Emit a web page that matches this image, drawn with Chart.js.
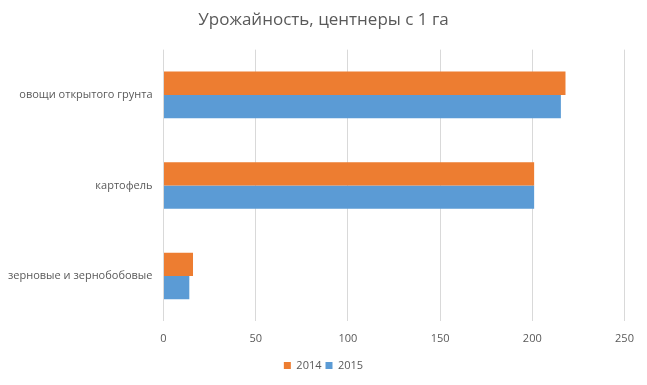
<!DOCTYPE html>
<html>
<head>
<meta charset="utf-8">
<script src="https://cdn.jsdelivr.net/npm/chart.js@4"></script>
<style>
  html, body { margin:0; padding:0; background:#fff; }
  #wrap { width:647px; height:385px; }
</style>
</head>
<body>
<div id="wrap"><canvas id="chart" width="647" height="385"></canvas></div>
<script>
// =====================
// DATA
// =====================
const categories = ["овощи открытого грунта", "картофель", "зерновые и зернобобовые"]
const values2014 = [218, 201, 16]
const values2015 = [215.5, 201, 14]
const seriesNames = ["2014", "2015"]
const xTicks = [0, 50, 100, 150, 200, 250]

const FONT = "'Open Sans', 'Noto Sans', sans-serif"
const TEXT = "#595959"

new Chart(document.getElementById("chart"), {
  type: "bar",
  data: {
    labels: categories,
    datasets: [
      { label: seriesNames[0], data: values2014, backgroundColor: "#ED7D31" },
      { label: seriesNames[1], data: values2015, backgroundColor: "#5B9BD5" }
    ]
  },
  options: {
    indexAxis: "y",
    responsive: false,
    animation: false,
    datasets: { bar: { categoryPercentage: 0.515, barPercentage: 1.0 } },
    layout: { padding: { left: 0, right: 0, top: 8, bottom: 4 } },
    plugins: {
      title: {
        display: true,
        text: "Урожайность, центнеры с 1 га",
        color: TEXT,
        font: { family: FONT, size: 17, weight: "normal" },
        padding: { top: 2, bottom: 19.25 }
      },
      legend: {
        position: "bottom",
        labels: {
          color: TEXT,
          font: { family: FONT, size: 11 },
          boxWidth: 7,
          boxHeight: 7,
          padding: 4
        }
      },
      tooltip: { enabled: false }
    },
    scales: {
      x: {
        min: 0,
        max: 250,
        afterBuildTicks: s => { s.ticks = xTicks.map(v => ({ value: v })) },
        grid: { color: "#d9d9d9", drawTicks: false },
        border: { display: false },
        ticks: { color: TEXT, font: { family: FONT, size: 11 }, padding: 10.75 }
      },
      y: {
        grid: { display: false, drawTicks: false },
        border: { display: false },
        ticks: { color: TEXT, font: { family: FONT, size: 11 }, padding: 11 },
        afterFit: s => { s.width = 163.5 }
      },
      // empty strip on the right, keeps room for the "250" label
      yRight: {
        type: "category",
        position: "right",
        grid: { display: false, drawTicks: false },
        border: { display: false },
        ticks: { display: false },
        afterFit: s => { s.width = 22.5 }
      }
    }
  }
})
</script>
</body>
</html>
